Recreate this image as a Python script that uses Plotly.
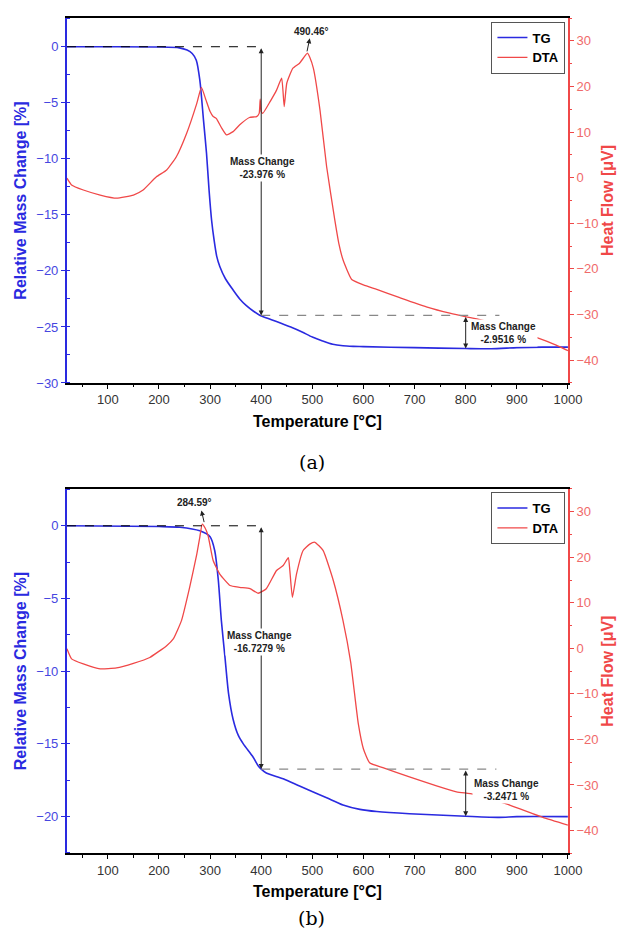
import plotly.graph_objects as go

# ---------------- data (a) ----------------
temp_tg_a = [20, 100, 200, 240, 255, 265, 273, 280, 287, 293, 298, 303, 308, 313, 319, 330, 345,
             358, 371, 385, 397, 420, 440, 460, 480, 500, 520, 540, 560, 580, 600, 700, 800, 850,
             900, 950, 1000]
tg_a = [0, 0, -0.02, -0.1, -0.3, -0.6, -1.2, -3.0, -6.5, -9.5, -12.8, -15.5, -17.3, -18.7, -19.6,
        -20.7, -21.7, -22.5, -23.1, -23.6, -23.95, -24.35, -24.7, -25.05, -25.45, -25.9, -26.25,
        -26.55, -26.68, -26.73, -26.76, -26.85, -26.93, -26.95, -26.85, -26.8, -26.8]

temp_dta_a = [20, 29, 52, 85, 117, 150, 169, 195, 215, 234, 254, 274, 283, 292, 300, 306, 312, 322,
              332, 345, 358, 377, 391, 396, 398, 400, 403, 418, 430, 440, 445, 450, 462, 475, 490.46,
              495, 502, 515, 528, 544, 552, 560, 577, 600, 626, 671, 723, 769, 801, 828, 880, 938,
              977, 1000]
dta_a = [-0.1, -1.6, -2.7, -3.8, -4.5, -3.8, -2.7, 0.2, 1.7, 4.6, 9.7, 16.3, 19.8, 17.0, 14.5, 13.4,
         13.0, 11.0, 9.4, 10.1, 11.6, 13.2, 13.4, 14.1, 17.2, 14.5, 14.1, 16.8, 19.2, 21.8, 15.6, 20.7,
         24.0, 25.1, 27.3, 26.4, 24.0, 14.8, 2.4, -9.3, -14.5, -18.0, -22.3, -23.5, -24.5, -26.3,
         -28.3, -29.7, -30.5, -31.1, -32.8, -35.0, -36.7, -37.9]

mass_change_a = [-23.976, -2.9516]
peak_a = 490.46

# ---------------- data (b) ----------------
temp_tg_b = [20, 200, 241, 280, 300, 309, 316, 322, 329, 336, 345, 355, 365, 384, 394, 400, 410,
             443, 475, 495, 528, 560, 593, 626, 690, 800, 866, 900, 1000]
tg_b = [0, -0.05, -0.1, -0.35, -0.76, -1.7, -3.7, -6.5, -9.0, -11.5, -13.3, -14.4, -15.0, -15.9,
        -16.5, -16.73, -17.0, -17.4, -17.9, -18.2, -18.7, -19.2, -19.5, -19.65, -19.8, -19.97,
        -20.05, -20.0, -20.0]

temp_dta_b = [20, 29, 52, 85, 117, 150, 182, 215, 228, 244, 260, 274, 280, 284.59, 290, 296, 306,
              319, 339, 358, 378, 394, 410, 430, 443, 453, 456, 461, 469, 482, 495, 505, 521, 541,
              560, 575, 590, 600, 612, 638, 690, 743, 782, 814, 850, 886, 951, 1000]
dta_b = [-0.1, -2.3, -3.4, -4.5, -4.3, -3.3, -2.0, 0.6, 2.1, 6.1, 13.4, 20.7, 24.5, 27.3, 26.5, 24.8,
         19.3, 16.3, 13.8, 13.4, 13.1, 12.1, 13.1, 17.1, 18.2, 19.9, 17.1, 11.2, 16.3, 21.5, 22.9,
         23.3, 21.5, 14.9, 6.1, -3.0, -16.6, -22.1, -25.1, -26.2, -28.2, -30.2, -31.5, -32.0,
         -33.2, -34.4, -37.1, -38.8]

mass_change_b = [-16.7279, -3.2471]
peak_b = 284.59

x_ticks = [100, 200, 300, 400, 500, 600, 700, 800, 900, 1000]

BLUE = "#2a2ae0"
BLUE_T = "#4646e0"
RED = "#f04848"
RED_T = "#f06a6a"
FONT = "Liberation Sans, Arial, sans-serif"

fig = go.Figure()
fig.add_trace(go.Scatter(x=temp_tg_a, y=tg_a, name="TG", mode="lines",
                         line=dict(color=BLUE, width=1.6, shape="spline", smoothing=0.7),
                         xaxis="x", yaxis="y", legend="legend"))
fig.add_trace(go.Scatter(x=temp_dta_a, y=dta_a, name="DTA", mode="lines",
                         line=dict(color=RED, width=1.3, shape="spline", smoothing=0.45),
                         xaxis="x", yaxis="y2", legend="legend"))
fig.add_trace(go.Scatter(x=temp_tg_b, y=tg_b, name="TG", mode="lines",
                         line=dict(color=BLUE, width=1.6, shape="spline", smoothing=0.7),
                         xaxis="x2", yaxis="y3", legend="legend2"))
fig.add_trace(go.Scatter(x=temp_dta_b, y=dta_b, name="DTA", mode="lines",
                         line=dict(color=RED, width=1.3, shape="spline", smoothing=0.45),
                         xaxis="x2", yaxis="y4", legend="legend2"))

XDOM = [0.108, 0.916]


def xax(anchor):
    return dict(domain=XDOM, anchor=anchor, range=[20, 1000], tickvals=x_ticks, automargin=False,
                showline=True, linecolor="black", linewidth=1.5, mirror=True,
                ticks="outside", ticklen=4, tickcolor="black", showgrid=False, zeroline=False,
                tickfont=dict(size=13, color="#333", family=FONT),
                minor=dict(dtick=50, tick0=0, ticks="outside", ticklen=2.5, tickcolor="black"),
                title=dict(text="<b>Temperature [°C]</b>", font=dict(size=16, color="black", family=FONT),
                           standoff=9))


def yleft(dom, rng, anchor):
    return dict(domain=dom, anchor=anchor, range=rng, tick0=0, dtick=5, automargin=False,
                showline=True, linecolor=BLUE, linewidth=2, ticks="outside", ticklen=4,
                tickcolor=BLUE, showgrid=False, zeroline=False,
                tickfont=dict(size=13, color=BLUE_T, family=FONT),
                minor=dict(dtick=2.5, tick0=0, ticks="inside", ticklen=3, tickcolor=BLUE),
                title=dict(text="<b>Relative Mass Change [%]</b>", font=dict(size=16, color=BLUE, family=FONT),
                           standoff=6))


def yright(over, anchor):
    return dict(overlaying=over, side="right", anchor=anchor, range=[-45, 35], tick0=0, dtick=10,
                automargin=False,
                showline=True, linecolor=RED, linewidth=2, ticks="outside", ticklen=4,
                tickcolor=RED, showgrid=False, zeroline=False,
                tickfont=dict(size=13, color=RED_T, family=FONT),
                minor=dict(dtick=5, tick0=0, ticks="outside", ticklen=2.5, tickcolor=RED),
                title=dict(text="<b>Heat Flow [μV]</b>", font=dict(size=16, color=RED, family=FONT),
                           standoff=4))


shapes = []
annotations = []


def add_panel(xr, yr, mc, peak, txt_pos, end_gray, peak_text, peak_arrow):
    lvl1 = mc[0]
    lvl2 = mc[0] + mc[1]
    shapes.append(dict(type="line", xref=xr, yref=yr, x0=20, x1=400, y0=0, y1=0,
                       line=dict(color="black", width=1, dash="dash")))
    shapes.append(dict(type="line", xref=xr, yref=yr, x0=400, x1=end_gray, y0=lvl1, y1=lvl1,
                       line=dict(color="#888", width=1.3, dash="dash")))
    for (xx, y_top, y_bot) in [(400, 0, lvl1), (800, lvl1, lvl2)]:
        annotations.append(dict(x=xx, y=y_bot, ax=xx, ay=y_top, xref=xr, yref=yr, axref=xr, ayref=yr,
                                text="", showarrow=True, arrowhead=2, startarrowhead=2,
                                arrowside="end+start", arrowsize=1, arrowwidth=1, arrowcolor="#222"))
    for (pos, val) in zip(txt_pos, mc):
        annotations.append(dict(x=pos[0], y=pos[1], xref=xr, yref=yr, showarrow=False,
                                text="<b>Mass Change<br>%s %%</b>" % val,
                                font=dict(size=10, color="#222", family=FONT), bgcolor="white",
                                align="center", borderpad=1))
    annotations.append(dict(x=peak_text[0], y=peak_text[1], xref=xr, yref=yr, showarrow=False,
                            text="<b>%s°</b>" % peak, font=dict(size=10, color="#222", family=FONT)))
    annotations.append(dict(x=peak_arrow[0], y=peak_arrow[1], ax=peak_arrow[2], ay=peak_arrow[3],
                            xref=xr, yref=yr, axref=xr, ayref=yr, text="", showarrow=True,
                            arrowhead=2, arrowsize=1, arrowwidth=1, arrowcolor="#222"))


add_panel("x", "y", mass_change_a, peak_a,
          [(403, -10.8), (873, -25.5)], 866, (499, 1.4), (495, 0.75, 489, -0.55))
add_panel("x2", "y3", mass_change_b, peak_b,
          [(397, -8.0), (880, -18.2)], 860, (270, 1.6), (283, 1.05, 289, 0.15))

annotations.append(dict(x=0.503, y=1 - 462.5 / 944, xref="paper", yref="paper", showarrow=False,
                        text="(a)", font=dict(size=19, color="black", family="DejaVu Serif, serif")))
annotations.append(dict(x=0.503, y=1 - 931 / 944, xref="paper", yref="paper", showarrow=False,
                        text="(b)", font=dict(size=19, color="black", family="DejaVu Serif, serif")))

legend_style = dict(xanchor="right", yanchor="top", bgcolor="white", bordercolor="#555",
                    borderwidth=1, font=dict(size=13, color="black", family=FONT, weight="bold"),
                    tracegroupgap=0, itemwidth=30)

fig.update_layout(
    width=620, height=944,
    margin=dict(l=0, r=0, t=0, b=0, autoexpand=False),
    paper_bgcolor="white", plot_bgcolor="white",
    font=dict(family=FONT),
    xaxis=xax("y"),
    yaxis=yleft([0.5943, 0.9809], [-30, 2.56], "x"),
    yaxis2=yright("y", "x"),
    xaxis2=xax("y3"),
    yaxis3=yleft([0.0961, 0.482], [-22.52, 2.53], "x2"),
    yaxis4=yright("y3", "x2"),
    legend=dict(x=0.912, y=1 - 21.5 / 944, **legend_style),
    legend2=dict(x=0.912, y=1 - 492 / 944, **legend_style),
    shapes=shapes,
    annotations=annotations,
    showlegend=True,
)

fig.write_html("out.html")
